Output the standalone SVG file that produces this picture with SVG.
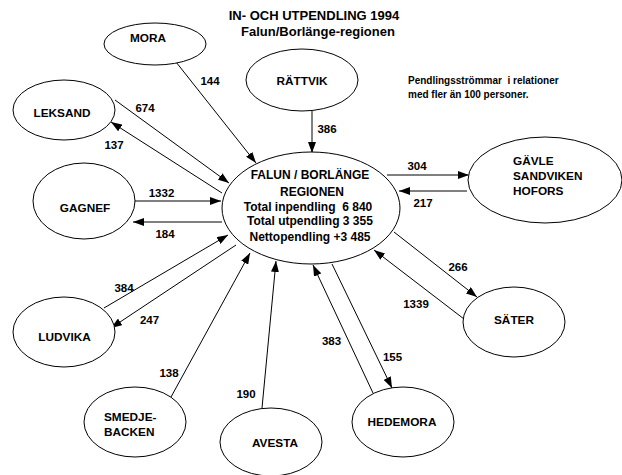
<svg xmlns="http://www.w3.org/2000/svg" width="622" height="475" viewBox="0 0 622 475">
<style>
text{font-family:"Liberation Sans",Arial,sans-serif;font-weight:bold;fill:#000}
.n{font-size:11.8px;text-anchor:middle}
.c{font-size:12px;text-anchor:middle}
.l{font-size:11.8px;text-anchor:start}
.lab{font-size:11.5px;text-anchor:middle}
.t{font-size:13px;text-anchor:middle}
.note{font-size:10px}
ellipse{fill:#fff;stroke:#000;stroke-width:1}
#connectors line{stroke:#000;stroke-width:1;marker-end:url(#ah)}
</style>
<defs>
<marker id="ah" markerUnits="userSpaceOnUse" markerWidth="11" markerHeight="8" refX="11" refY="4" orient="auto">
<path d="M0,0 L11,4 L0,8 z" fill="#000"/>
</marker>
</defs>
<rect width="622" height="475" fill="#fff"/>
<g id="title">
<text class="t" x="314" y="20">IN- OCH UTPENDLING 1994</text>
<text class="t" x="318" y="36">Falun/Borlänge-regionen</text>
</g>
<g id="note">
<text class="note" x="408" y="84" xml:space="preserve">Pendlingsströmmar  i relationer</text>
<text class="note" x="408" y="98">med fler än 100 personer.</text>
</g>
<g id="connectors">
<line x1="176" y1="62" x2="256" y2="163"/>
<line x1="312" y1="111" x2="312" y2="153"/>
<line x1="115" y1="100" x2="229" y2="183"/>
<line x1="222" y1="193" x2="111" y2="122"/>
<line x1="135" y1="201" x2="221" y2="201"/>
<line x1="222" y1="222" x2="133" y2="222"/>
<line x1="104" y1="308" x2="228" y2="235"/>
<line x1="236" y1="245" x2="111" y2="328"/>
<line x1="171" y1="397" x2="250" y2="253"/>
<line x1="262" y1="408" x2="276" y2="261"/>
<line x1="373" y1="393" x2="313" y2="265"/>
<line x1="332" y1="264" x2="392" y2="388"/>
<line x1="394" y1="232" x2="477" y2="297"/>
<line x1="464" y1="319" x2="374" y2="250"/>
<line x1="387" y1="175" x2="469" y2="175"/>
<line x1="467" y1="191" x2="399" y2="191"/>
</g>
<g id="labels">
<text class="lab" x="210" y="85">144</text>
<text class="lab" x="327" y="133">386</text>
<text class="lab" x="145" y="112">674</text>
<text class="lab" x="114" y="149">137</text>
<text class="lab" x="161.5" y="197">1332</text>
<text class="lab" x="165" y="238">184</text>
<text class="lab" x="124" y="292">384</text>
<text class="lab" x="149.5" y="324">247</text>
<text class="lab" x="169" y="377">138</text>
<text class="lab" x="246" y="398">190</text>
<text class="lab" x="331.5" y="345">383</text>
<text class="lab" x="392.5" y="361">155</text>
<text class="lab" x="458" y="271">266</text>
<text class="lab" x="416" y="308">1339</text>
<text class="lab" x="417" y="170">304</text>
<text class="lab" x="423" y="207">217</text>
</g>
<g id="center">
<ellipse cx="311" cy="208" rx="89" ry="56"/>
<text class="c" x="310" y="179">FALUN / BORLÄNGE</text>
<text class="c" x="312" y="196">REGIONEN</text>
<text class="c" x="308" y="211" xml:space="preserve">Total inpendling  6 840</text>
<text class="c" x="310" y="225">Total utpendling 3 355</text>
<text class="c" x="310" y="241">Nettopendling +3 485</text>
</g>
<g id="mora">
<ellipse cx="155" cy="44" rx="51" ry="21"/>
<text class="n" x="148" y="42">MORA</text>
</g>
<g id="rattvik">
<ellipse cx="302" cy="80" rx="56" ry="31"/>
<text class="n" x="302" y="85">RÄTTVIK</text>
</g>
<g id="leksand">
<ellipse cx="64" cy="110" rx="51" ry="30"/>
<text class="n" x="62" y="117">LEKSAND</text>
</g>
<g id="gagnef">
<ellipse cx="84" cy="201" rx="51" ry="38"/>
<text class="n" x="85" y="212">GAGNEF</text>
</g>
<g id="ludvika">
<ellipse cx="64" cy="332" rx="51" ry="35"/>
<text class="n" x="64.5" y="341">LUDVIKA</text>
</g>
<g id="smedjebacken">
<ellipse cx="135" cy="422" rx="51" ry="35"/>
<text class="l" x="104" y="421">SMEDJE-</text>
<text class="l" x="104" y="436">BACKEN</text>
</g>
<g id="avesta">
<ellipse cx="271" cy="442" rx="51" ry="34"/>
<text class="n" x="275" y="447">AVESTA</text>
</g>
<g id="hedemora">
<ellipse cx="403" cy="422" rx="51" ry="35"/>
<text class="n" x="402" y="426">HEDEMORA</text>
</g>
<g id="sater">
<ellipse cx="514" cy="322" rx="51" ry="35"/>
<text class="n" x="514" y="324">SÄTER</text>
</g>
<g id="gavle">
<ellipse cx="545" cy="180" rx="77" ry="43"/>
<text class="l" x="513" y="165">GÄVLE</text>
<text class="l" x="513" y="180">SANDVIKEN</text>
<text class="l" x="513" y="195">HOFORS</text>
</g>
</svg>
